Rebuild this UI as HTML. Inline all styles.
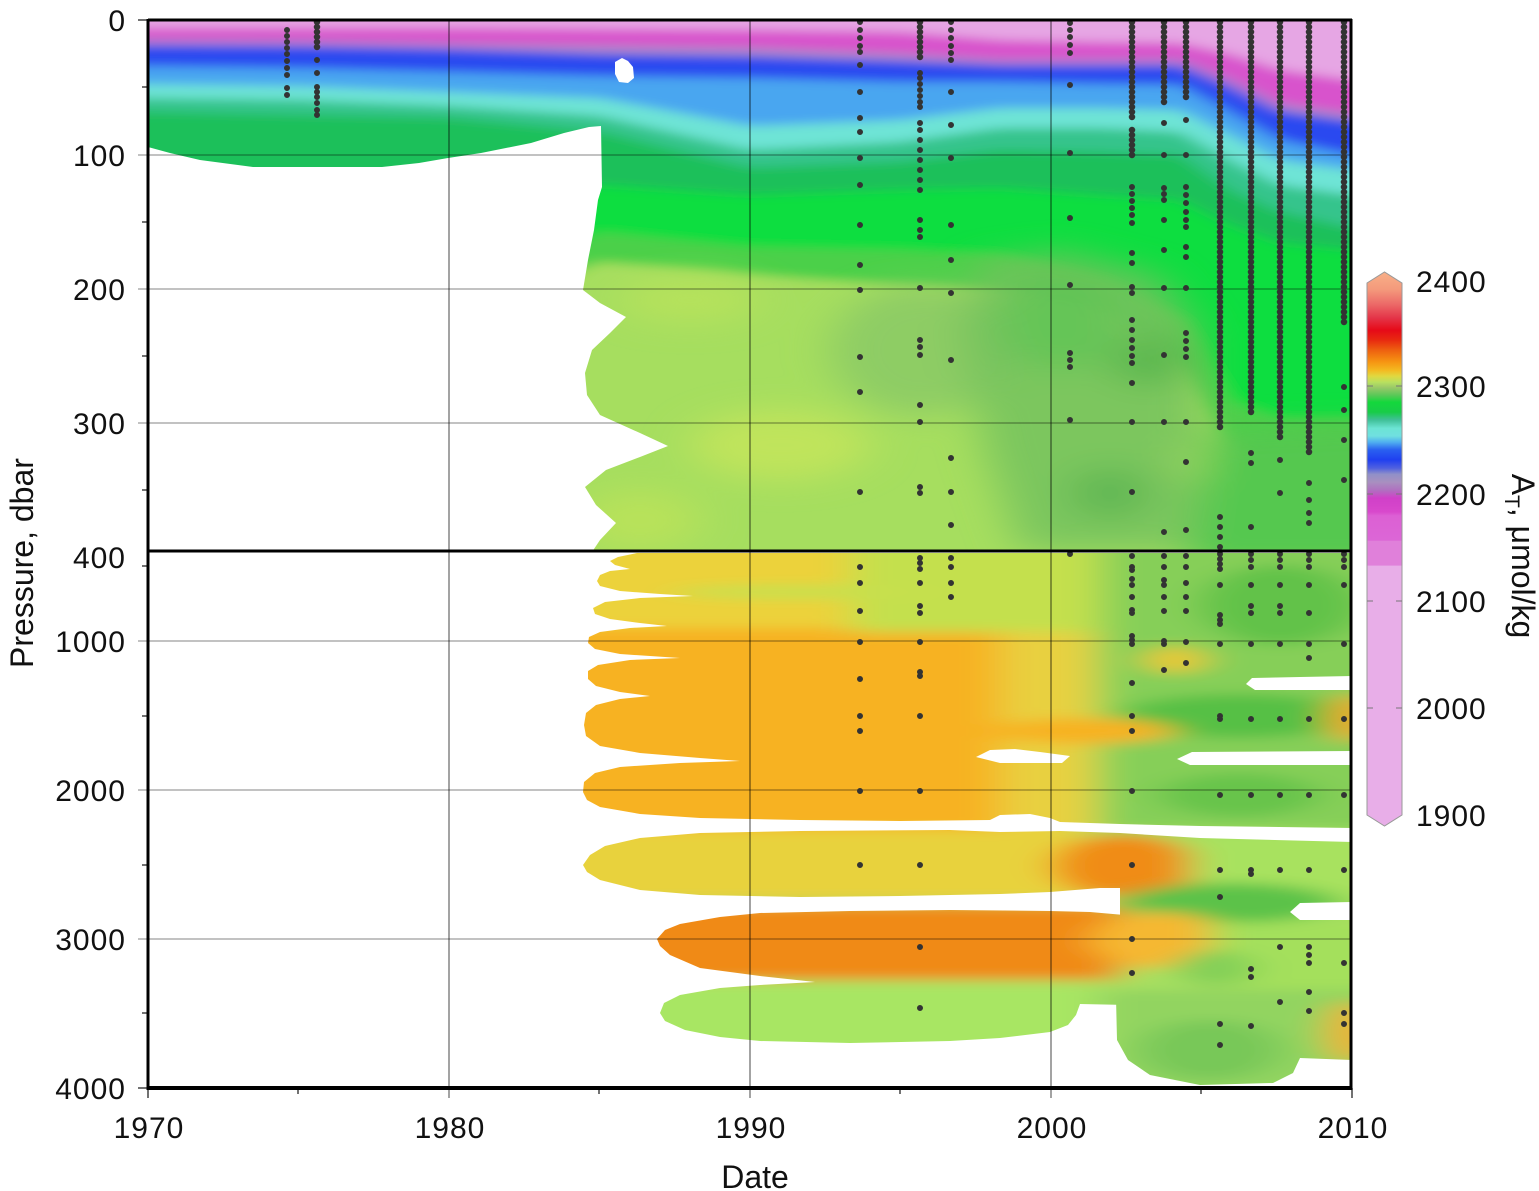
<!DOCTYPE html>
<html><head><meta charset="utf-8"><style>
html,body{margin:0;padding:0;background:#fff;}
svg{display:block;}
text{font-family:"Liberation Sans",Arial,sans-serif;fill:#111;}
</style></head><body>
<svg width="1539" height="1191" viewBox="0 0 1539 1191" xmlns="http://www.w3.org/2000/svg">
<defs>
<filter id="bU" filterUnits="userSpaceOnUse" x="0" y="0" width="1539" height="1191"><feGaussianBlur stdDeviation="10 5"/></filter>
<filter id="bP" filterUnits="userSpaceOnUse" x="0" y="0" width="1539" height="1191"><feGaussianBlur stdDeviation="22 14"/></filter>
<filter id="bL" filterUnits="userSpaceOnUse" x="0" y="0" width="1539" height="1191"><feGaussianBlur stdDeviation="20 6"/></filter>
<clipPath id="cU"><rect x="148" y="20" width="1204" height="531"/></clipPath>
<clipPath id="cL">
<path d="M1352,553 L637,553 L618,557 L610,561 L615,565 L630,569 L610,571 L600,575 L597,581 L600,586 L620,591 L660,594 L693,596 L640,598 L605,602 L593,608 L595,614 L610,619 L640,623 L667,626 L630,628 L600,632 L589,637 L588,643 L595,649 L620,654 L680,658 L630,660 L598,665 L588,671 L588,679 L596,686 L620,692 L650,696 L620,699 L596,705 L586,713 L584,725 L586,736 L600,746 L640,753 L700,758 L740,761 L680,763 L620,767 L595,773 L584,782 L583,792 L587,800 L600,807 L640,814 L700,818 L800,820 L900,821 L990,820 L1000,815 L1030,814 L1050,818 L1060,822 L1120,824 L1200,826 L1352,828 Z"/>
<path d="M583,865 L590,855 L605,846 L640,838 L700,833 L800,831 L950,830 L1000,832 L1060,831 L1120,833 L1200,838 L1352,842 L1352,1000 L1120,1000 L1120,888 L1100,888 L1050,892 L1000,894 L900,896 L800,897 L700,895 L640,890 L600,880 L587,872 Z"/>
<path d="M657,939 L665,930 L680,924 L720,917 L760,913 L850,911 L950,910 L1050,911 L1090,912 L1125,915 L1125,1005 L1080,1004 L1076,1015 L1068,1025 L1050,1032 L1000,1038 L950,1041 L850,1043 L760,1041 L720,1037 L685,1030 L665,1021 L660,1013 L664,1003 L680,995 L720,988 L760,985 L815,982 L760,976 L700,968 L670,955 L660,946 Z"/>
<path d="M1116,998 L1352,998 L1352,1060 L1300,1058 L1293,1073 L1273,1083 L1200,1085 L1150,1075 L1128,1060 L1117,1040 Z"/>
</clipPath>
<linearGradient id="cb" gradientUnits="userSpaceOnUse" x1="0" y1="272" x2="0" y2="826">
<stop offset="0" stop-color="#f8b088"/>
<stop offset="0.031" stop-color="#f49a7c"/>
<stop offset="0.058" stop-color="#ec6a68"/>
<stop offset="0.083" stop-color="#e43448"/>
<stop offset="0.105" stop-color="#e60a18"/>
<stop offset="0.123" stop-color="#e82a10"/>
<stop offset="0.141" stop-color="#ee6010"/>
<stop offset="0.162" stop-color="#f69412"/>
<stop offset="0.177" stop-color="#f4b820"/>
<stop offset="0.188" stop-color="#e0d840"/>
<stop offset="0.199" stop-color="#b8e060"/>
<stop offset="0.209" stop-color="#98c868"/>
<stop offset="0.222" stop-color="#5cc858"/>
<stop offset="0.235" stop-color="#14d83c"/>
<stop offset="0.253" stop-color="#18cc48"/>
<stop offset="0.267" stop-color="#40c098"/>
<stop offset="0.282" stop-color="#6ce4d4"/>
<stop offset="0.296" stop-color="#70e0e0"/>
<stop offset="0.307" stop-color="#50b0f0"/>
<stop offset="0.321" stop-color="#2a60f0"/>
<stop offset="0.339" stop-color="#2040f0"/>
<stop offset="0.354" stop-color="#5060e0"/>
<stop offset="0.365" stop-color="#9090c8"/>
<stop offset="0.379" stop-color="#a890c0"/>
<stop offset="0.394" stop-color="#b070c0"/>
<stop offset="0.408" stop-color="#d040c8"/>
<stop offset="0.433" stop-color="#d848cc"/>
<stop offset="0.440" stop-color="#dc60d4"/>
<stop offset="0.484" stop-color="#dc66d6"/>
<stop offset="0.486" stop-color="#e080da"/>
<stop offset="0.529" stop-color="#e080da"/>
<stop offset="0.531" stop-color="#e8aee8"/>
<stop offset="1" stop-color="#e8aee8"/>
</linearGradient>
</defs>

<!-- ============ UPPER PANEL FIELD ============ -->
<g clip-path="url(#cU)">
<g filter="url(#bU)">
<rect x="80" y="0" width="1340" height="600" fill="#e6a6e4"/>
<path fill="#d852cc" d="M100,28L148,28L300,28L450,28L600,29L750,30L900,32L1000,40L1100,42L1180,43L1230,54L1280,70L1352,80L1400,80V600H100Z"/>
<path fill="#a88ec8" d="M100,40L148,40L300,41L450,44L600,46L750,48L900,54L1000,60L1100,60L1180,60L1230,80L1280,104L1352,114L1400,114V600H100Z"/>
<path fill="#2a48f0" d="M100,45L148,45L300,46L450,49L600,54L750,56L900,61L1000,65L1100,65L1180,65L1230,86L1280,111L1352,121L1400,121V600H100Z"/>
<path fill="#4aa6f0" d="M100,66L148,66L300,68L450,72L600,76L750,78L900,82L1000,82L1100,84L1180,85L1230,112L1280,140L1352,155L1400,155V600H100Z"/>
<path fill="#6ee4d6" d="M100,84L148,84L300,86L450,92L600,98L750,126L900,120L1000,108L1100,108L1180,110L1230,135L1280,160L1352,170L1400,170V600H100Z"/>
<path fill="#36c48c" d="M100,98L148,98L300,100L450,106L600,116L750,150L900,142L1000,128L1100,128L1180,132L1230,160L1280,185L1352,195L1400,195V600H100Z"/>
<path fill="#1ac05a" d="M100,112L148,112L300,115L450,118L600,132L750,168L900,162L1000,150L1100,152L1180,155L1230,190L1280,212L1352,228L1400,228V600H100Z"/>
<path fill="#10de40" d="M100,200L148,200L300,200L450,200L600,185L750,195L900,190L1000,188L1100,195L1180,200L1230,225L1280,243L1352,250L1400,250V600H100Z"/>
<path fill="#4cd04a" d="M100,300L148,300L300,300L450,300L600,232L750,247L900,250L1000,255L1100,280L1180,320L1230,400L1280,420L1352,420L1400,420V600H100Z"/>
<path fill="#a6de5e" d="M100,320L148,320L300,320L450,320L600,262L750,275L900,285L1000,290L1100,310L1180,370L1230,455L1280,465L1352,470L1400,470V600H100Z"/>
</g>
<g filter="url(#bP)">
<ellipse cx="920" cy="350" rx="90" ry="65" fill="#88c866" opacity="0.8"/>
<path d="M980,262 L1060,250 L1160,275 L1200,330 L1200,551 L1020,551 L985,450 L960,330 Z" fill="#74c25e" opacity="0.85"/>
<ellipse cx="1060" cy="320" rx="60" ry="50" fill="#5cc454" opacity="0.7"/>
<ellipse cx="1150" cy="360" rx="40" ry="25" fill="#5cb850"/>
<ellipse cx="1205" cy="462" rx="25" ry="20" fill="#a0d860"/>
<ellipse cx="1110" cy="493" rx="40" ry="25" fill="#62b854"/>
<path d="M1210,430 L1352,425 L1420,425 L1420,570 L1190,570 Z" fill="#54c850"/>
<ellipse cx="780" cy="445" rx="90" ry="35" fill="#c0e45c"/>
<ellipse cx="690" cy="300" rx="70" ry="22" fill="#b6e25c"/>
<ellipse cx="640" cy="520" rx="60" ry="30" fill="#b8e25a"/>
</g>
<!-- white mask -->
<path fill="#fff" d="M140,147 L148,147 L170,153 L200,160 L253,167 L382,167 L419,163 L448,158 L481,153 L531,143 L564,133 L589,127 L601,126 L602,187 L598,200 L594,230 L588,260 L583,290 L600,303 L626,317 L610,333 L592,350 L585,373 L587,395 L600,415 L640,433 L668,446 L640,457 L606,470 L585,487 L596,505 L616,523 L600,540 L590,555 L140,555 Z"/>
<path fill="#fff" d="M615,62 L622,58 L628,61 L633,67 L634,78 L628,83 L619,82 L615,74 Z"/>
</g>

<!-- ============ LOWER PANEL FIELD ============ -->
<g clip-path="url(#cL)">
<g filter="url(#bL)">
<rect x="500" y="540" width="920" height="570" fill="#a8e060"/>
<rect x="500" y="540" width="500" height="88" fill="#ecd23a"/>
<rect x="500" y="628" width="520" height="202" fill="#f7b224"/>
<rect x="1000" y="628" width="95" height="202" fill="#e8d040"/>
<rect x="850" y="540" width="250" height="92" fill="#c4e04e"/>
<ellipse cx="800" cy="592" rx="130" ry="7" fill="#c8e04e"/>
<rect x="1100" y="540" width="320" height="290" fill="#86cf58"/>
<ellipse cx="1280" cy="605" rx="80" ry="40" fill="#62c24a"/>
<ellipse cx="1175" cy="660" rx="30" ry="14" fill="#e8c834"/>
<ellipse cx="1240" cy="716" rx="120" ry="22" fill="#56c044"/>
<ellipse cx="1240" cy="795" rx="80" ry="22" fill="#68c44c"/>
<ellipse cx="1085" cy="731" rx="90" ry="13" fill="#f7b224"/>
<ellipse cx="1352" cy="718" rx="22" ry="25" fill="#f5a524"/>
<rect x="500" y="830" width="580" height="70" fill="#e8d23c"/>
<ellipse cx="1125" cy="866" rx="72" ry="32" fill="#f08c18"/>
<rect x="1190" y="835" width="230" height="65" fill="#a8e25e"/>
<ellipse cx="1230" cy="903" rx="110" ry="20" fill="#5cc248"/>
<rect x="600" y="905" width="520" height="75" fill="#f08a12"/>
<ellipse cx="1160" cy="940" rx="70" ry="28" fill="#f5b830"/>
<rect x="1210" y="922" width="210" height="78" fill="#a4e05c"/>
<ellipse cx="1215" cy="968" rx="40" ry="18" fill="#84d058"/>
<rect x="600" y="982" width="495" height="70" fill="#a8e664"/>
<rect x="1100" y="990" width="320" height="110" fill="#92d460"/>
<ellipse cx="1210" cy="1050" rx="70" ry="30" fill="#78c858"/>
<ellipse cx="1352" cy="1032" rx="25" ry="32" fill="#f0b030"/>
</g>
</g>
<!-- white bars in lower panel -->
<path fill="#fff" d="M1246,684 L1252,678 L1300,677 L1352,676 L1352,690 L1300,690 L1255,690 Z"/>
<path fill="#fff" d="M976,757 L990,750 L1015,749 L1040,752 L1070,756 L1062,763 L1000,763 Z"/>
<path fill="#fff" d="M1177,759 L1192,752 L1352,751 L1352,765 L1190,765 Z"/>
<path fill="#fff" d="M1290,912 L1300,903 L1352,902 L1352,920 L1300,920 Z"/>

<!-- ============ GRID ============ -->
<g stroke="rgba(0,0,0,0.32)" stroke-width="1.5" fill="none">
<path d="M138,155H1352M138,289H1352M138,423H1352M138,641H1352M138,790H1352M138,939H1352"/>
</g>
<g stroke="rgba(0,0,0,0.6)" stroke-width="1.2" fill="none">
<path d="M449,20V1098M750,20V1098M1051,20V1098"/>
</g>

<!-- ============ DATA DOTS ============ -->
<path fill="none" stroke="#333" stroke-width="6.5" stroke-linecap="round" stroke-dasharray="0 5" d="M317,22V48M920,22V60M1132,22V122M1132,130V157M1164,22V103M1186,22V100M1220,22V432M1251,22V413M1280,22V440M1309,22V457M1344,22V327"/>
<path fill="none" stroke="#333" stroke-width="6" stroke-linecap="round" d="
M287,30h0M287,36h0M287,42h0M287,48h0M287,54h0M287,61h0M287,68h0M287,75h0M287,88h0M287,95h0
M317,60h0M317,73h0M317,87h0M317,92h0M317,97h0M317,103h0M317,110h0M317,115h0
M860,22h0M860,30h0M860,38h0M860,46h0M860,52h0M860,65h0M860,92h0M860,118h0M860,132h0M860,158h0M860,185h0M860,225h0M860,265h0M860,290h0M860,357h0M860,392h0M860,492h0M860,567h0M860,583h0M860,611h0M860,642h0M860,679h0M860,716h0M860,731h0M860,791h0M860,865h0
M920,73h0M920,78h0M920,84h0M920,90h0M920,96h0M920,102h0M920,107h0M920,123h0M920,130h0M920,140h0M920,150h0M920,160h0M920,170h0M920,180h0M920,190h0M920,220h0M920,230h0M920,237h0M920,288h0M920,340h0M920,347h0M920,355h0M920,405h0M920,422h0M920,487h0M920,493h0M920,558h0M920,563h0M920,569h0M920,583h0M920,606h0M920,613h0M920,642h0M920,672h0M920,676h0M920,716h0M920,791h0M920,865h0M920,947h0M920,1008h0
M951,22h0M951,30h0M951,38h0M951,46h0M951,53h0M951,60h0M951,92h0M951,125h0M951,158h0M951,225h0M951,260h0M951,293h0M951,360h0M951,458h0M951,492h0M951,525h0M951,558h0M951,567h0M951,583h0M951,597h0
M1070,23h0M1070,30h0M1070,37h0M1070,45h0M1070,53h0M1070,85h0M1070,153h0M1070,218h0M1070,285h0M1070,353h0M1070,360h0M1070,367h0M1070,420h0M1070,554h0
M1132,187h0M1132,194h0M1132,201h0M1132,208h0M1132,215h0M1132,223h0M1132,253h0M1132,263h0M1132,287h0M1132,293h0M1132,320h0M1132,330h0M1132,340h0M1132,348h0M1132,356h0M1132,363h0M1132,383h0M1132,422h0M1132,492h0M1132,556h0M1132,567h0M1132,570h0M1132,579h0M1132,585h0M1132,597h0M1132,610h0M1132,613h0M1132,636h0M1132,640h0M1132,644h0M1132,683h0M1132,716h0M1132,731h0M1132,791h0M1132,865h0M1132,939h0M1132,973h0
M1164,123h0M1164,155h0M1164,188h0M1164,194h0M1164,200h0M1164,220h0M1164,250h0M1164,288h0M1164,355h0M1164,422h0M1164,532h0M1164,556h0M1164,567h0M1164,580h0M1164,585h0M1164,597h0M1164,611h0M1164,641h0M1164,644h0M1164,670h0
M1186,120h0M1186,155h0M1186,187h0M1186,195h0M1186,203h0M1186,212h0M1186,220h0M1186,227h0M1186,247h0M1186,257h0M1186,288h0M1186,333h0M1186,341h0M1186,349h0M1186,357h0M1186,422h0M1186,462h0M1186,530h0M1186,556h0M1186,567h0M1186,583h0M1186,597h0M1186,611h0M1186,642h0M1186,663h0
M1220,517h0M1220,527h0M1220,537h0M1220,547h0M1220,554h0M1220,559h0M1220,564h0M1220,569h0M1220,585h0M1220,615h0M1220,620h0M1220,624h0M1220,644h0M1220,716h0M1220,719h0M1220,795h0M1220,870h0M1220,897h0M1220,1024h0M1220,1045h0
M1251,453h0M1251,463h0M1251,527h0M1251,554h0M1251,560h0M1251,567h0M1251,585h0M1251,606h0M1251,613h0M1251,644h0M1251,719h0M1251,795h0M1251,870h0M1251,874h0M1251,969h0M1251,977h0M1251,1026h0
M1280,460h0M1280,493h0M1280,554h0M1280,560h0M1280,567h0M1280,585h0M1280,606h0M1280,613h0M1280,644h0M1280,719h0M1280,795h0M1280,870h0M1280,947h0M1280,1002h0
M1309,483h0M1309,500h0M1309,513h0M1309,523h0M1309,554h0M1309,560h0M1309,567h0M1309,585h0M1309,613h0M1309,644h0M1309,658h0M1309,719h0M1309,795h0M1309,870h0M1309,947h0M1309,955h0M1309,963h0M1309,992h0M1309,1011h0
M1344,387h0M1344,410h0M1344,440h0M1344,480h0M1344,554h0M1344,560h0M1344,567h0M1344,585h0M1344,644h0M1344,719h0M1344,795h0M1344,870h0M1344,963h0M1344,1013h0M1344,1024h0"/>

<!-- ============ FRAME & TICKS ============ -->
<g stroke="#444" stroke-width="1.5" fill="none">
<path d="M138,20H148M142,87H148M142,222H148M142,356H148M142,490H148M142,566H148M142,716H148M142,865H148M142,1013H148M138,1088H148"/>
<path d="M148,1088V1098M1352,1088V1098M298,1088V1094M599,1088V1094M900,1088V1094M1201,1088V1094"/>
</g>
<g stroke="#000" fill="none">
<path d="M148,20H1352" stroke-width="3"/>
<path d="M148,551H1352" stroke-width="3"/>
<path d="M148,1088H1352" stroke-width="4"/>
<path d="M148,19V1090" stroke-width="3"/>
<path d="M1351,19V1090" stroke-width="3"/>
</g>

<!-- ============ LABELS ============ -->
<g font-size="30" text-anchor="end" letter-spacing="1">
<text x="126" y="31">0</text>
<text x="126" y="166">100</text>
<text x="126" y="300">200</text>
<text x="126" y="434">300</text>
<text x="126" y="568">400</text>
<text x="126" y="652">1000</text>
<text x="126" y="801">2000</text>
<text x="126" y="950">3000</text>
<text x="126" y="1099">4000</text>
</g>
<g font-size="30" text-anchor="middle" letter-spacing="1">
<text x="149" y="1138">1970</text>
<text x="450" y="1138">1980</text>
<text x="751" y="1138">1990</text>
<text x="1052" y="1138">2000</text>
<text x="1353" y="1138">2010</text>
</g>
<text x="755" y="1188" font-size="32" text-anchor="middle">Date</text>
<text transform="translate(33,563) rotate(-90)" font-size="32" text-anchor="middle">Pressure, dbar</text>

<!-- ============ COLORBAR ============ -->
<path d="M1367,283 L1384.5,272 L1402,283 L1402,815 L1384.5,826 L1367,815 Z" fill="url(#cb)" stroke="#999" stroke-width="1"/>
<g stroke="#777" stroke-width="1">
<path d="M1367,386H1373M1396,386H1402M1367,494H1373M1396,494H1402M1367,601H1373M1396,601H1402M1367,708H1373M1396,708H1402"/>
</g>
<g font-size="30" letter-spacing="1">
<text x="1416" y="292">2400</text>
<text x="1416" y="397">2300</text>
<text x="1416" y="505">2200</text>
<text x="1416" y="612">2100</text>
<text x="1416" y="719">2000</text>
<text x="1416" y="826">1900</text>
</g>
<text transform="translate(1512,556) rotate(90)" font-size="32" text-anchor="middle">A<tspan font-size="21" dy="7">T</tspan><tspan dy="-7">, μmol/kg</tspan></text>
</svg>
</body></html>
